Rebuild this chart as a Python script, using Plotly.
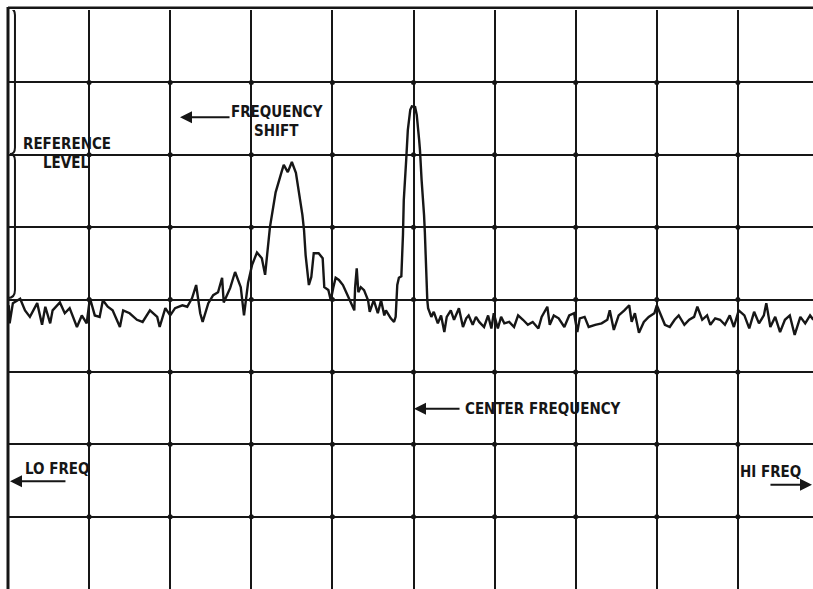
import plotly.graph_objects as go

# Frequency offset from center, in graticule divisions
freq_div = [
    -4.99, -4.98, -4.94, -4.85, -4.79, -4.73, -4.64, -4.58, -4.54, -4.48,
    -4.45, -4.36, -4.30, -4.24, -4.15, -4.09, -4.03, -3.99, -3.93, -3.87,
    -3.83, -3.77, -3.71, -3.62, -3.58, -3.50, -3.41, -3.34, -3.25, -3.16,
    -3.13, -3.06, -3.00, -2.94, -2.85, -2.79, -2.73, -2.68, -2.63, -2.60,
    -2.53, -2.47, -2.41, -2.36, -2.34, -2.26, -2.20, -2.16, -2.13, -2.09,
    -2.04, -1.99, -1.93, -1.87, -1.83, -1.77, -1.72, -1.70, -1.63, -1.60,
    -1.55, -1.50, -1.45, -1.40, -1.37, -1.35, -1.33, -1.29, -1.26, -1.23,
    -1.17, -1.12, -1.10, -1.05, -1.02, -0.99, -0.96, -0.92, -0.87, -0.83,
    -0.77, -0.73, -0.72, -0.70, -0.68, -0.65, -0.61, -0.56, -0.54, -0.49,
    -0.44, -0.40, -0.36, -0.34, -0.28, -0.24, -0.22, -0.20, -0.18, -0.15,
    -0.13, -0.12, -0.09, -0.07, -0.04, -0.02, 0.02, 0.04, 0.07, 0.08,
    0.10, 0.12, 0.13, 0.14, 0.15, 0.17, 0.18, 0.22, 0.25, 0.30,
    0.34, 0.38, 0.41, 0.46, 0.50, 0.56, 0.61, 0.65, 0.68, 0.73,
    0.77, 0.81, 0.87, 0.92, 0.96, 0.99, 1.04, 1.08, 1.12, 1.18,
    1.24, 1.29, 1.35, 1.41, 1.47, 1.54, 1.58, 1.65, 1.68, 1.73,
    1.79, 1.86, 1.92, 1.98, 2.02, 2.05, 2.11, 2.16, 2.24, 2.32,
    2.39, 2.42, 2.47, 2.53, 2.60, 2.66, 2.69, 2.73, 2.78, 2.84,
    2.90, 2.97, 3.00, 3.04, 3.10, 3.16, 3.22, 3.27, 3.34, 3.40,
    3.46, 3.50, 3.56, 3.62, 3.66, 3.72, 3.78, 3.84, 3.90, 3.95,
    4.01, 4.08, 4.14, 4.20, 4.26, 4.32, 4.35, 4.40, 4.46, 4.52,
    4.58, 4.64, 4.70, 4.77, 4.83, 4.89, 4.93,
]

# Signal level in dB relative to the reference level (10 dB / division)
level_db = [
    -20.8, -23.3, -20.5, -19.9, -21.5, -22.4, -20.5, -23.5, -21.0, -23.3,
    -21.5, -20.4, -21.9, -21.2, -23.8, -22.2, -23.3, -19.8, -22.2, -22.4,
    -20.1, -21.0, -21.5, -23.8, -21.5, -21.9, -22.8, -23.1, -21.5, -22.4,
    -23.8, -21.2, -22.2, -21.2, -20.8, -21.0, -19.8, -18.0, -21.9, -23.1,
    -20.5, -19.4, -19.0, -17.0, -20.4, -18.4, -16.2, -17.3, -18.3, -22.2,
    -17.7, -15.2, -13.5, -14.3, -16.6, -10.0, -6.3, -5.2, -2.5, -1.4,
    -2.4, -1.0, -2.5, -6.0, -8.3, -10.4, -13.9, -18.0, -16.9, -13.6,
    -13.6, -14.3, -18.3, -18.7, -20.1, -18.4, -17.0, -17.3, -18.0, -19.0,
    -20.5, -21.5, -18.3, -15.7, -19.0, -18.3, -18.7, -20.1, -21.7, -20.1,
    -21.9, -20.1, -22.2, -21.5, -22.6, -23.1, -22.4, -18.0, -17.0, -16.8,
    -11.1, -6.3, -0.7, 3.4, 6.2, 6.7, 6.6, 5.5, 2.0, 0.6,
    -3.5, -6.3, -8.3, -10.7, -15.2, -20.1, -21.2, -22.4, -21.7, -23.3,
    -22.2, -24.5, -22.4, -21.5, -22.8, -21.2, -23.8, -22.6, -22.2, -23.5,
    -22.4, -23.1, -23.8, -22.2, -24.0, -21.9, -24.0, -22.4, -23.3, -23.1,
    -23.8, -22.2, -22.8, -23.5, -23.1, -24.0, -22.4, -21.0, -23.5, -22.2,
    -22.6, -23.8, -22.2, -21.9, -24.5, -22.6, -22.4, -23.8, -23.5, -23.3,
    -22.8, -21.5, -24.2, -22.2, -21.5, -20.8, -23.1, -21.9, -24.6, -23.1,
    -22.4, -21.9, -20.8, -21.9, -23.5, -23.8, -22.8, -22.2, -23.5, -22.8,
    -22.4, -21.0, -22.8, -22.2, -23.5, -22.6, -22.8, -23.5, -22.2, -23.8,
    -21.5, -22.2, -24.0, -21.7, -23.3, -22.2, -20.5, -23.8, -22.4, -24.5,
    -22.8, -22.2, -24.9, -22.4, -23.3, -22.2, -22.8,
]

# Graticule
x_divs = [-5, -4, -3, -2, -1, 0, 1, 2, 3, 4]
y_divs = [-50, -40, -30, -20, -10, 0, 10]
X_RANGE = [-5, 4.926]
Y_RANGE = [-60, 20]

INK = "#161616"
FONT = dict(family="Liberation Sans Narrow, DejaVu Sans Condensed, Arial Narrow, sans-serif",
            size=15, color=INK)

fig = go.Figure()

# small dots at graticule intersections
gx, gy = [], []
for xv in x_divs[1:]:
    for yv in y_divs:
        gx.append(xv)
        gy.append(yv)
fig.add_trace(go.Scatter(x=gx, y=gy, mode="markers",
                         marker=dict(size=5, color=INK), hoverinfo="skip",
                         showlegend=False))

fig.add_trace(go.Scatter(x=freq_div, y=level_db, mode="lines",
                         line=dict(color=INK, width=2.4), showlegend=False))

ax_common = dict(showticklabels=False, ticks="", zeroline=False,
                 showgrid=True, gridcolor=INK, gridwidth=2, showline=False,
                 fixedrange=True)
fig.update_xaxes(range=X_RANGE, tick0=0, dtick=1, **ax_common)
fig.update_yaxes(range=Y_RANGE, tick0=0, dtick=10, **ax_common)

shapes = [
    # left border
    dict(type="line", xref="paper", yref="paper", x0=0, x1=0, y0=0, y1=1.005,
         line=dict(color=INK, width=3)),
    # top border
    dict(type="line", xref="paper", yref="paper", x0=0, x1=1, y0=1.004, y1=1.004,
         line=dict(color=INK, width=2.5)),
    # reference-level brace
    dict(type="path", xref="x", yref="y",
         path=("M -5.0,20.3 Q -4.914,20.3 -4.914,19.3 L -4.914,1.0 "
               "Q -4.914,0.1 -4.975,0.1 Q -4.914,0.1 -4.914,-0.8 "
               "L -4.914,-18.7 Q -4.914,-19.8 -5.0,-19.8"),
         line=dict(color=INK, width=2)),
]

annotations = [
    dict(x=-4.27, y=1.5, text="<b>REFERENCE</b>", showarrow=False),
    dict(x=-4.28, y=-1.1, text="<b>LEVEL</b>", showarrow=False),
    dict(x=-1.683, y=5.95, text="<b>FREQUENCY</b>", showarrow=False),
    dict(x=-1.69, y=3.3, text="<b>SHIFT</b>", showarrow=False),
    dict(x=0.61, y=-35.1, text="<b>CENTER FREQUENCY</b>", showarrow=False,
         xanchor="left"),
    dict(x=-4.815, y=-43.4, text="<b>LO FREQ</b>", showarrow=False,
         xanchor="left"),
    dict(x=4.80, y=-43.8, text="<b>HI FREQ</b>", showarrow=False,
         xanchor="right"),
    # arrows
    dict(x=-2.879, y=5.19, ax=-2.25, ay=5.19, axref="x", ayref="y", text="",
         showarrow=True, arrowhead=2, arrowsize=1.2, arrowwidth=2, arrowcolor=INK),
    dict(x=0.006, y=-35.1, ax=0.586, ay=-35.1, axref="x", ayref="y", text="",
         showarrow=True, arrowhead=2, arrowsize=1.2, arrowwidth=2, arrowcolor=INK),
    dict(x=-4.975, y=-45.1, ax=-4.273, ay=-45.1, axref="x", ayref="y", text="",
         showarrow=True, arrowhead=2, arrowsize=1.2, arrowwidth=2, arrowcolor=INK),
    dict(x=4.914, y=-45.6, ax=4.383, ay=-45.6, axref="x", ayref="y", text="",
         showarrow=True, arrowhead=2, arrowsize=1.2, arrowwidth=2, arrowcolor=INK),
]
for a in annotations:
    a.setdefault("xref", "x")
    a.setdefault("yref", "y")
    a["font"] = FONT

fig.update_layout(
    width=813, height=589,
    margin=dict(l=8, r=0, t=10, b=0),
    paper_bgcolor="white", plot_bgcolor="white",
    shapes=shapes, annotations=annotations,
    showlegend=False,
)

fig.write_html(
    "out.html",
    config={"displayModeBar": False},
    post_script=("document.body.style.margin='0';"
                 "document.body.style.overflow='hidden';"
                 "document.documentElement.style.overflow='hidden';"),
)
